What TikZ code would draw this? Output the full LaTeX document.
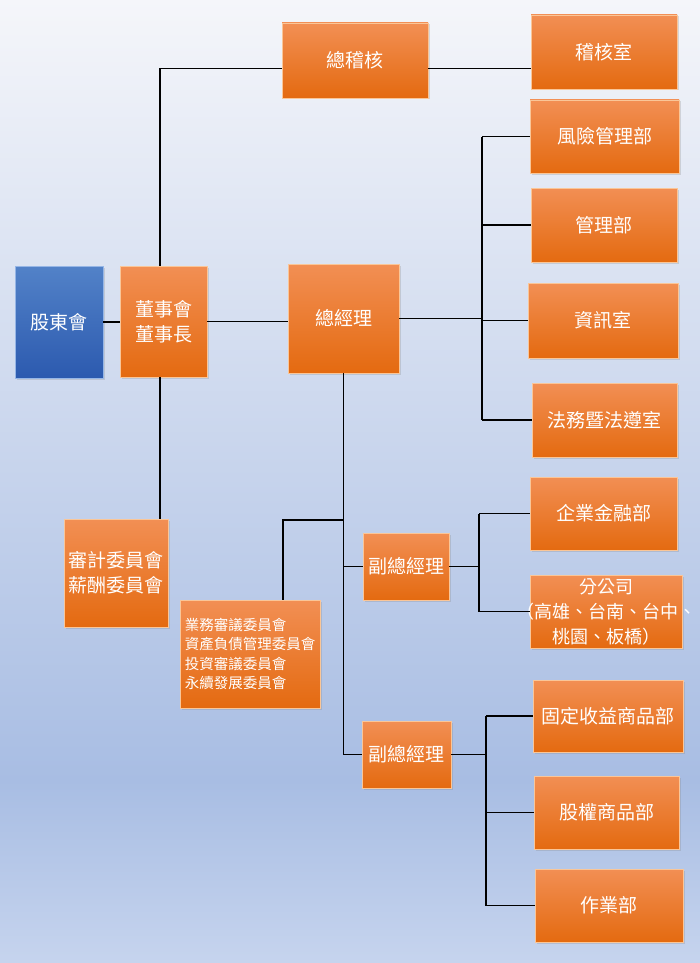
\documentclass[tikz,border=0pt]{standalone}
\usepackage{xcolor}
\usepackage{fontspec}
\setmainfont{Noto Sans CJK TC}
\usepackage{tikz}
\usetikzlibrary{positioning, calc, shadows}

\definecolor{boxtop}{RGB}{242,143,84}
\definecolor{boxbot}{RGB}{228,106,16}
\definecolor{boxrim}{RGB}{250,198,152}
\definecolor{bluetop}{RGB}{82,130,200}
\definecolor{bluebot}{RGB}{44,90,175}
\definecolor{bluerim}{RGB}{150,182,230}
\definecolor{bgtop}{RGB}{245,246,250}
\definecolor{bgmid}{RGB}{168,189,227}
\definecolor{bgbot}{RGB}{198,212,238}

\begin{document}
\begin{tikzpicture}[x=1pt, y=-1pt,
    unit/.style={draw=boxrim, line width=0.8pt, top color=boxtop, bottom color=boxbot,
        text=white, inner sep=0pt, align=center, font=\fontsize{19}{25}\selectfont,
        drop shadow={opacity=0.25, shadow xshift=1.5pt, shadow yshift=-1.5pt}},
    share/.style={unit, draw=bluerim, top color=bluetop, bottom color=bluebot},
    link/.style={line width=1.8pt, black}]
    % Background
    \useasboundingbox (0,0) rectangle (700,963);
    \shade[top color=bgtop, bottom color=bgmid] (0,0) rectangle (700,781);
    \shade[top color=bgmid, bottom color=bgbot] (0,780) rectangle (700,963);
    % Board level
    \node[share, minimum width=88pt, minimum height=112pt] (sh) at (59,322) {股東會};
    \node[unit, minimum width=87pt, minimum height=111pt] (bd) at (163.5,321.5) {董事會\\董事長};
    \node[unit, minimum width=104pt, minimum height=108pt] (aud) at (116,573) {審計委員會\\薪酬委員會};
    \node[unit, minimum width=146pt, minimum height=75pt] (ca) at (355,60.5) {總稽核};
    \node[unit, minimum width=146pt, minimum height=74pt] (ar) at (604,52) {稽核室};
    % President and staff units
    \node[unit, minimum width=111pt, minimum height=109pt] (gm) at (343.5,318.5) {總經理};
    \node[unit, minimum width=149pt, minimum height=73pt] (rm) at (604.5,136.5) {風險管理部};
    \node[unit, minimum width=146pt, minimum height=74pt] (ad) at (604,225) {管理部};
    \node[unit, minimum width=150pt, minimum height=75pt] (it) at (603,320.5) {資訊室};
    \node[unit, minimum width=145pt, minimum height=74pt] (lc) at (604.5,420) {法務暨法遵室};
    \node[unit, minimum width=140pt, minimum height=108pt, align=left,
        font=\fontsize{14.5}{19.5}\selectfont] (cm) at (250,654)
        {業務審議委員會\\資產負債管理委員會\\投資審議委員會\\永續發展委員會};
    % Vice presidents
    \node[unit, minimum width=86pt, minimum height=67pt] (vpa) at (406,566.5) {副總經理};
    \node[unit, minimum width=147pt, minimum height=73pt] (cf) at (603.5,513.5) {企業金融部};
    \node[unit, minimum width=152pt, minimum height=73pt, font=\fontsize{18}{25}\selectfont] (br) at (606,611.5)
        {分公司\\\makebox[0pt]{（高雄、台南、台中、}\\桃園、板橋）};
    \node[unit, minimum width=89pt, minimum height=67pt] (vpb) at (406.5,754.5) {副總經理};
    \node[unit, minimum width=150pt, minimum height=72pt] (fi) at (608,716) {固定收益商品部};
    \node[unit, minimum width=145pt, minimum height=73pt] (eq) at (606.5,812.5) {股權商品部};
    \node[unit, minimum width=148pt, minimum height=73pt] (op) at (609,905.5) {作業部};
    % Spines
    \coordinate (s1) at (482,0);
    \coordinate (s2) at (479,0);
    \coordinate (s3) at (486,0);
    \coordinate (cj) at (343.5,520);
    % Connectors
    \draw[link] (sh.east) -- (sh.east -| bd.west);
    \draw[link] (bd.east) -- (bd.east -| gm.west);
    \draw[link] ([xshift=-3.5pt]bd.north) |- ([yshift=-8pt]ca.west);
    \draw[link] ([yshift=-8pt]ca.east) -- ([yshift=-8pt]ca.east -| ar.west);
    \draw[link] ([xshift=-3.5pt]bd.south) -- ([xshift=-3.5pt]bd.south |- aud.north);
    \draw[link] (gm.east) -- (gm.east -| s1);
    \draw[link] (rm.west -| s1) -- (lc.west -| s1);
    \foreach \u in {rm,ad,it,lc}
        \draw[link] (\u.west -| s1) -- (\u.west);
    \draw[link] (gm.south) |- (vpb.west);
    \draw[link] (vpa.west) -- (vpa.west -| gm.south);
    \draw[link] ([xshift=33pt]cm.north) |- (cj);
    \draw[link] (vpa.east) -- (vpa.east -| s2);
    \draw[link] (cf.west -| s2) -- (br.west -| s2);
    \foreach \u in {cf,br}
        \draw[link] (\u.west -| s2) -- (\u.west);
    \draw[link] (vpb.east) -- (vpb.east -| s3);
    \draw[link] (fi.west -| s3) -- (op.west -| s3);
    \foreach \u in {fi,eq,op}
        \draw[link] (\u.west -| s3) -- (\u.west);
\end{tikzpicture}
\end{document}
